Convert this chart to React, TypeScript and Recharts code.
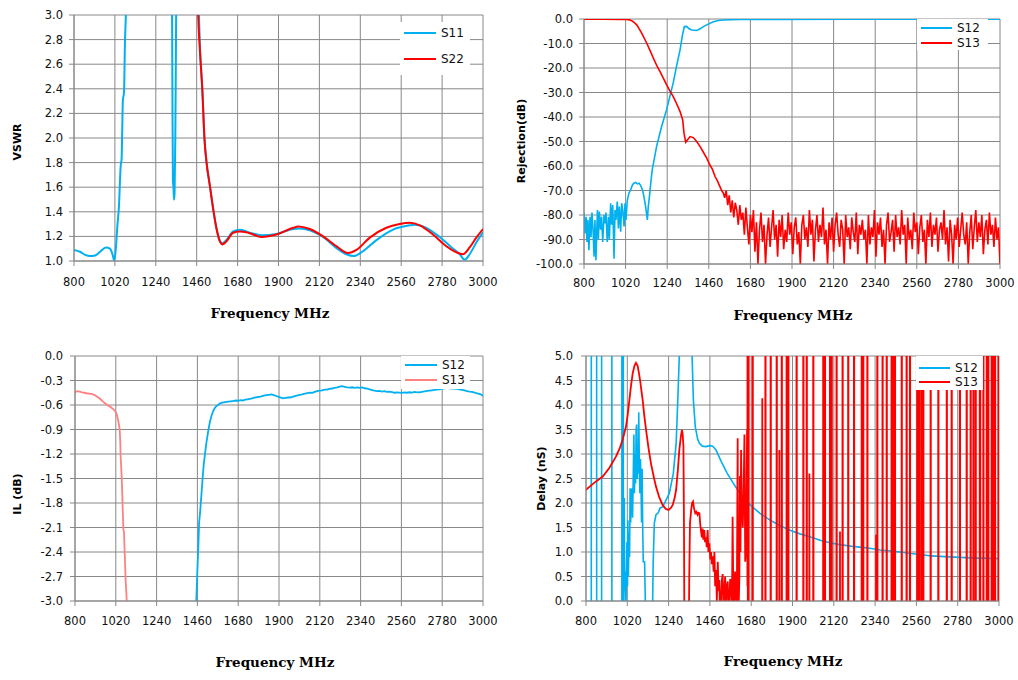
import React from 'react';
import { LineChart, Line, XAxis, YAxis, CartesianGrid, Legend } from 'recharts';

type P = [number, number];

// ---------- shared axis ticks ----------
const freqTicks = [800, 1020, 1240, 1460, 1680, 1900, 2120, 2340, 2560, 2780, 3000];
const vswrTicks = [1.0, 1.2, 1.4, 1.6, 1.8, 2.0, 2.2, 2.4, 2.6, 2.8, 3.0];
const rejTicks = [0, -10, -20, -30, -40, -50, -60, -70, -80, -90, -100];
const ilTicks = [0, -0.3, -0.6, -0.9, -1.2, -1.5, -1.8, -2.1, -2.4, -2.7, -3.0];
const delayTicks = [0, 0.5, 1.0, 1.5, 2.0, 2.5, 3.0, 3.5, 4.0, 4.5, 5.0];

// ---------- VSWR ----------
const vswrS11: P[] = [
  [800, 1.09], [832, 1.075], [860, 1.05], [886, 1.04], [913, 1.045], [940, 1.075], [972, 1.11],
  [993, 1.1], [1008, 1.05], [1017, 1.0], [1026, 1.12], [1033, 1.28], [1042, 1.45], [1051, 1.77],
  [1056, 1.83], [1063, 2.31], [1069, 2.37], [1074, 2.77], [1079, 3.0], [1085, 3.4], [1100, 4.5],
  [1250, 5.0], [1320, 4.5], [1326, 3.5], [1329, 2.5], [1332, 1.65], [1335, 1.6], [1338, 1.5],
  [1341, 1.55], [1345, 2.0], [1349, 2.9], [1352, 3.5], [1380, 5.0], [1460, 4.0], [1472, 3.0],
  [1478, 2.72], [1490, 2.4], [1502, 1.99], [1513, 1.8], [1531, 1.61], [1549, 1.42], [1567, 1.26],
  [1585, 1.16], [1599, 1.145], [1620, 1.17], [1656, 1.24], [1692, 1.255], [1737, 1.235],
  [1809, 1.21], [1889, 1.22], [1979, 1.26], [2015, 1.265], [2068, 1.25], [2140, 1.195],
  [2212, 1.105], [2265, 1.055], [2305, 1.04], [2355, 1.08], [2427, 1.17], [2516, 1.255],
  [2606, 1.29], [2633, 1.295], [2695, 1.27], [2767, 1.195], [2839, 1.1], [2875, 1.055],
  [2901, 1.01], [2928, 1.055], [2964, 1.15], [3000, 1.235],
];
const vswrS22: P[] = [
  [1462, 3.4], [1468, 3.0], [1477, 2.72], [1490, 2.4], [1502, 1.99], [1513, 1.8], [1531, 1.61],
  [1549, 1.42], [1567, 1.26], [1585, 1.16], [1599, 1.135], [1620, 1.16], [1656, 1.23],
  [1692, 1.24], [1737, 1.23], [1809, 1.195], [1889, 1.215], [1979, 1.27], [2006, 1.28],
  [2068, 1.26], [2140, 1.2], [2212, 1.12], [2274, 1.065], [2319, 1.09], [2391, 1.19],
  [2480, 1.27], [2552, 1.3], [2606, 1.31], [2660, 1.29], [2731, 1.215], [2803, 1.12],
  [2857, 1.07], [2892, 1.055], [2928, 1.11], [2964, 1.19], [3000, 1.26],
];

// ---------- Rejection ----------
const rejS12: P[] = [
  [800, -79], [805, -87.5], [811, -80.7], [816, -91], [821, -82], [826, -94.4], [832, -80.7],
  [837, -89], [842, -79], [848, -86], [853, -97], [858, -82], [863, -98.5], [871, -78], [876, -90],
  [881, -78.6], [888, -86], [893, -80.7], [899, -91], [906, -80], [911, -83.4], [916, -79],
  [923, -91], [929, -80.7], [934, -90], [941, -75.2], [946, -84], [952, -75.9], [959, -97.8],
  [964, -78], [969, -82], [976, -74.5], [982, -85.5], [987, -76.5], [994, -86.8], [999, -75.2],
  [1005, -78], [1012, -84.7], [1017, -75.2], [1022, -82], [1029, -74], [1038, -71], [1047, -69.7],
  [1056, -67.7], [1064, -67], [1073, -66.7], [1082, -67.3], [1091, -67], [1100, -68], [1109, -69.7],
  [1117, -72.5], [1126, -76.6], [1135, -82], [1140, -76.6], [1146, -72.5], [1153, -67], [1161, -61.5],
  [1184, -52], [1210, -44], [1237, -37], [1272, -26], [1290, -19], [1308, -12.6], [1322, -6],
  [1331, -3.1], [1343, -3.0], [1356, -4.0], [1370, -4.5], [1396, -4.7], [1415, -4.0], [1431, -3.1],
  [1460, -2.0], [1484, -1.1], [1510, -0.6], [1537, -0.4], [1625, -0.2], [1800, -0.15], [2200, -0.1],
  [3000, -0.1],
];
const rejS13Smooth: P[] = [
  [800, -0.1], [900, -0.1], [1000, -0.15], [1026, -0.2], [1040, -0.35], [1052, -0.7], [1065, -1.4],
  [1079, -2.4], [1092, -4.0], [1105, -5.8], [1132, -9.9], [1150, -13], [1167, -16], [1185, -19],
  [1202, -21.5], [1220, -24.2], [1237, -26.9], [1255, -29.4], [1272, -31.7], [1290, -34.6],
  [1308, -37.8], [1322, -41.2], [1329, -46.7], [1338, -50.3], [1347, -49.4], [1361, -48],
  [1378, -48.4], [1396, -50], [1414, -52.1], [1432, -54.5], [1449, -56.8], [1466, -59.6],
  [1480, -61.5], [1493, -64.3], [1505, -66], [1519, -68.4], [1528, -70], [1537, -71.1],
];
// measured sweep from 1544 MHz, 8 MHz per sample
const REJ_NOISE_START = 1544;
const REJ_NOISE_STEP = 8;
const rejS13Noise: number[] = [
  -73, -70, -76, -72, -79, -74, -81, -75, -78, -84, -76, -82,
  -79, -88, -77, -85, -92, -80, -87, -78, -95, -83, -100, -86, -79, -91, -84, -100, -88, -81, -93, -85,
  -78, -90, -84, -97, -82, -89, -80, -94, -86, -91, -79, -88, -83, -96, -85, -81, -92, -87, -100, -84,
  -80, -90, -85, -93, -78, -88, -82, -99, -86, -80, -91, -84, -89, -77, -92, -86, -100, -83, -90, -81,
  -95, -84, -79, -88, -93, -82, -86, -100, -80, -89, -85, -94, -81, -87, -91, -79, -96, -84, -88, -82,
  -90, -86, -100, -80, -92, -85, -89, -78, -97, -83, -88, -81, -93, -86, -100, -84, -79, -91, -87, -82,
  -95, -80, -89, -85, -92, -78, -88, -84, -100, -81, -90, -86, -94, -79, -87, -83, -96, -85, -80, -91,
  -86, -100, -82, -89, -79, -93, -84, -88, -81, -95, -86, -83, -90, -78, -92, -85, -99, -82, -88, -100,
  -84, -90, -81, -93, -86, -79, -88, -92, -83, -100,
  -87, -80, -94, -85, -78, -91, -83, -89, -80, -96, -86, -82, -92, -79, -88, -84, -93, -81, -90, -85,
];
const rejS13End: P[] = [[3000, -100]];

// ---------- Insertion loss ----------
const ilS12: P[] = [
  [1445, -3.4], [1454, -3.0], [1460, -2.62], [1465, -2.35], [1469, -2.05], [1475, -1.9], [1481, -1.72],
  [1488, -1.5], [1494, -1.33], [1501, -1.2], [1508, -1.07], [1515, -0.97], [1521, -0.885], [1528, -0.8],
  [1535, -0.74], [1544, -0.68], [1553, -0.64], [1562, -0.615], [1571, -0.6], [1582, -0.58], [1594, -0.57],
  [1610, -0.565], [1625, -0.56], [1640, -0.555], [1655, -0.55], [1668, -0.545], [1680, -0.548],
  [1692, -0.54], [1705, -0.545], [1718, -0.535], [1730, -0.53], [1742, -0.525], [1755, -0.52],
  [1768, -0.51], [1780, -0.505], [1792, -0.5], [1805, -0.495], [1818, -0.485], [1832, -0.48],
  [1845, -0.475], [1859, -0.47], [1872, -0.48], [1885, -0.49], [1898, -0.5], [1910, -0.51],
  [1921, -0.518], [1935, -0.512], [1950, -0.508], [1966, -0.505], [1980, -0.495], [1995, -0.485],
  [2011, -0.477], [2025, -0.47], [2040, -0.46], [2052, -0.455], [2065, -0.448], [2080, -0.452],
  [2092, -0.44], [2105, -0.43], [2119, -0.424], [2132, -0.42], [2146, -0.412], [2160, -0.41],
  [2173, -0.404], [2186, -0.398], [2200, -0.39], [2213, -0.385], [2227, -0.375], [2240, -0.37],
  [2254, -0.378], [2268, -0.385], [2281, -0.387], [2295, -0.383], [2308, -0.39], [2322, -0.385],
  [2335, -0.391], [2348, -0.385], [2362, -0.395], [2375, -0.4], [2389, -0.408], [2402, -0.418],
  [2415, -0.425], [2428, -0.43], [2442, -0.428], [2455, -0.435], [2468, -0.43], [2482, -0.44],
  [2496, -0.436], [2510, -0.442], [2523, -0.45], [2536, -0.445], [2550, -0.448], [2563, -0.452],
  [2577, -0.445], [2590, -0.45], [2604, -0.444], [2617, -0.448], [2631, -0.44], [2645, -0.446],
  [2658, -0.444], [2671, -0.438], [2685, -0.432], [2698, -0.428], [2712, -0.424], [2725, -0.42],
  [2739, -0.415], [2752, -0.41], [2766, -0.408], [2780, -0.4], [2793, -0.396], [2806, -0.39],
  [2820, -0.395], [2833, -0.4], [2847, -0.398], [2860, -0.402], [2874, -0.408], [2887, -0.415],
  [2900, -0.422], [2914, -0.43], [2928, -0.436], [2941, -0.44], [2955, -0.448], [2964, -0.456],
  [2975, -0.462], [2988, -0.47], [3000, -0.489],
];
const ilS13: P[] = [
  [800, -0.448], [812, -0.43], [825, -0.436], [838, -0.445], [850, -0.45], [861, -0.456], [875, -0.46],
  [888, -0.465], [897, -0.469], [910, -0.485], [924, -0.505], [938, -0.53], [951, -0.558], [965, -0.585],
  [978, -0.607], [992, -0.625], [1005, -0.648], [1015, -0.67], [1023, -0.7], [1028, -0.74], [1032, -0.78],
  [1037, -0.84], [1041, -0.905], [1044, -1.05], [1046, -1.23], [1050, -1.4], [1053, -1.557],
  [1057, -1.85], [1061, -2.13], [1064, -2.15], [1068, -2.41], [1073, -2.74], [1079, -3.0], [1085, -3.4],
];

// ---------- Group delay ----------
const delayS12: P[] = [
  [800, -5], [828, -5], [829, 40], [856, 40], [857, -5], [883, -5], [884, 40], [937, 40], [938, -5],
  [991, -5], [992, 40], [998, 40], [999, -5], [1001, 0.3], [1004, 2.1], [1006, 0.2], [1009, 0.6],
  [1012, -0.3], [1015, 0.4], [1018, 1.2], [1021, 0.3], [1023, 1.65], [1026, 0.5], [1029, 1.4],
  [1032, 0.9], [1035, 2.3], [1038, 1.6], [1041, 2.2], [1045, 2.3], [1048, 1.7], [1052, 2.6],
  [1055, 3.4], [1058, 2.2], [1061, 3.0], [1064, 2.4], [1067, 3.5], [1070, 3.6], [1073, 2.5],
  [1076, 3.0], [1079, 2.6], [1081, 3.85], [1084, 2.8], [1087, 2.2], [1090, 2.9], [1093, 2.4],
  [1096, 1.6], [1099, 2.7], [1102, 1.5], [1105, 0.8], [1112, 0.8], [1116, 0], [1118, -2],
  [1150, -2], [1155, 0], [1158, 0.8], [1164, 1.59], [1173, 1.76], [1185, 1.8], [1195, 1.9],
  [1208, 1.92], [1225, 2.05], [1244, 2.2], [1265, 2.6], [1280, 3.2], [1288, 4.0], [1297, 5.0],
  [1305, 6.5], [1350, 7], [1365, 5.0], [1372, 4.1], [1382, 3.56], [1395, 3.3], [1404, 3.22],
  [1420, 3.16], [1439, 3.15], [1460, 3.17], [1475, 3.16], [1493, 3.08], [1520, 2.85], [1550, 2.62],
  [1585, 2.4], [1620, 2.2], [1674, 1.96], [1727, 1.79], [1780, 1.65], [1833, 1.54], [1890, 1.44],
  [1940, 1.37], [2000, 1.3], [2047, 1.24], [2100, 1.19], [2153, 1.15], [2210, 1.12], [2260, 1.1],
  [2320, 1.07], [2366, 1.04], [2420, 1.02], [2473, 1.0], [2530, 0.97], [2580, 0.95], [2640, 0.92],
  [2686, 0.91], [2740, 0.9], [2793, 0.89], [2850, 0.88], [2899, 0.875], [2950, 0.87], [3000, 0.865],
];
const delayS13: P[] = [
  [800, 2.27], [840, 2.4], [889, 2.54], [925, 2.72], [960, 2.95], [980, 3.12], [995, 3.29], [1013, 3.56],
  [1022, 3.8], [1031, 4.1], [1040, 4.4], [1049, 4.65], [1058, 4.8], [1066, 4.86], [1075, 4.8],
  [1082, 4.65], [1088, 4.51], [1095, 4.3], [1102, 4.1], [1110, 3.8], [1120, 3.49], [1133, 3.12],
  [1146, 2.81], [1160, 2.55], [1173, 2.33], [1190, 2.12], [1208, 1.96], [1225, 1.88], [1240, 1.86],
  [1252, 1.9], [1262, 1.96], [1272, 2.1], [1280, 2.27], [1290, 2.7], [1297, 3.08], [1305, 3.35],
  [1311, 3.49], [1315, 3.4], [1319, 3.15], [1322, 1.5], [1324, -0.5], [1330, -2], [1345, -2],
  [1350, 0.5], [1354, 1.59], [1360, 1.85], [1365, 2.0], [1370, 2.03], [1375, 1.9], [1382, 1.79],
  [1388, 1.82], [1394, 1.76], [1399, 1.8], [1404, 1.79], [1409, 1.55], [1413, 1.42], [1417, 1.3],
  [1421, 1.48], [1425, 1.25], [1430, 1.45], [1434, 1.2], [1439, 1.3], [1443, 1.1], [1448, 1.45],
  [1452, 1.0], [1457, 1.18], [1462, 0.85], [1466, 1.0], [1470, 0.75], [1475, 0.91], [1480, 0.6],
  [1484, 1.0], [1488, 0.3], [1493, 0.63], [1497, 0.0], [1502, 0.8], [1506, 0.2], [1510, 0.43],
  [1514, -0.3], [1519, 0.0], [1523, 0.4], [1528, 0.55], [1532, -0.2], [1537, 0.2], [1541, 0.5],
  [1546, -0.1], [1550, 0.3], [1555, 0.4], [1559, -0.2], [1564, 0.05], [1568, 0.45], [1573, 0.35],
  [1577, -0.3], [1581, 1.72], [1585, 0.1], [1590, -0.2], [1594, 0.6], [1599, 0.3], [1603, -0.3],
  [1608, 3.32], [1610, 0.2], [1613, -0.2], [1617, 0.5], [1620, 2.55], [1623, 1.0], [1626, 3.08],
  [1630, 2.0], [1635, 1.5], [1639, 2.1], [1644, 3.4], [1648, 0.8], [1652, 1.0], [1655, 2.0],
  [1658, 3.5], [1660, 0.3],
  [1661, 40], [1662, -3], [1665, -3], [1666, 40], [1667, -3], [1687, -3], [1688, 40], [1689, -3],
  [1738, -3], [1739, 4.14], [1740, -3], [1755, -3], [1756, 40], [1757, -3],
  [1783, -3], [1784, 40], [1785, -3], [1815, -3], [1816, 40], [1817, -3],
  [1829, -3], [1830, 3.08], [1831, -3], [1842, -3], [1843, 40], [1844, -3],
  [1868, -3], [1869, 40], [1870, -3], [1877, -3], [1878, 40], [1879, -3],
  [1921, -3], [1922, 40], [1923, -3], [1957, -3], [1958, 40], [1959, -3],
  [1975, -3], [1976, 40], [1977, -3], [1989, -3], [1990, 2.6], [1991, -3],
  [2010, -3], [2011, 40], [2012, -3], [2063, -3], [2064, 40], [2065, -3],
  [2072, -3], [2073, 40], [2074, -3], [2099, -3], [2100, 40], [2101, -3],
  [2108, -3], [2109, 40], [2110, -3], [2134, -3], [2135, 40], [2136, -3],
  [2152, -3], [2153, 1.42], [2154, -3], [2166, -3], [2167, 40], [2168, -3],
  [2196, -3], [2197, 40], [2198, -3], [2227, -3], [2228, 40], [2229, -3],
  [2268, -3], [2269, 40], [2270, -3], [2276, -3], [2277, 40], [2278, -3],
  [2298, -3], [2299, 40], [2300, -3], [2344, -3], [2345, 1.35], [2346, -3],
  [2351, -3], [2352, 40], [2353, -3], [2379, -3], [2380, 40], [2381, -3],
  [2401, -3], [2402, 40], [2403, -3], [2427, -3], [2428, 40], [2429, -3],
  [2436, -3], [2437, 40], [2438, -3], [2445, -3], [2446, 40], [2447, -3],
  [2481, -3], [2482, 40], [2483, -3], [2507, -3], [2508, 40], [2509, -3],
  [2525, -3], [2526, 40], [2527, -3], [2564, -3], [2565, 40], [2566, -3],
  [2575, -3], [2576, 40], [2577, -3], [2587, -3], [2588, 40], [2589, -3],
  [2596, -3], [2597, 40], [2598, -3], [2635, -3], [2636, 40], [2637, -3],
  [2676, -3], [2677, 40], [2678, -3], [2721, -3], [2722, 40], [2723, -3],
  [2747, -3], [2748, 40], [2749, -3], [2791, -3], [2792, 40], [2793, -3],
  [2827, -3], [2828, 40], [2829, -3], [2848, -3], [2849, 40], [2850, -3],
  [2863, -3], [2864, 40], [2865, -3], [2875, -3], [2876, 40], [2877, -3],
  [2897, -3], [2898, 40], [2899, 2.27], [2900, 40], [2901, -3],
  [2916, -3], [2917, 40], [2918, -3], [2934, -3], [2935, 40], [2936, -3],
  [2942, -3], [2943, 40], [2944, -3], [2960, -3], [2961, 40], [2962, -3],
  [2969, -3], [2970, 40], [2971, -3], [2978, -3], [2979, 40], [2980, -3],
  [2996, -3], [2997, 40], [2998, -3], [3000, -3],
];

// ---------- styling ----------
const BLUE = '#00B0F0';
const RED = '#FF0000';
const PINK = '#FF8080';
const GRID = '#888888';
const W = 509;
const H = 340;

const pts = (arr: P[]) => arr.map(([f, v]) => ({ f, v }));

type Series = { name: string; color: string; data: { f: number; v: number }[]; width?: number; type?: 'linear' | 'monotone' };
type LegendCfg = { left: number; top: number; width: number; height: number; rows: number[]; lineX: number; lineW: number; textX: number };
type PanelProps = {
  x: number; y: number;
  plot: { left: number; top: number; right: number; bottom: number };
  domain: [number, number]; yTicks: number[];
  yTitle: string; yTitlePos: [number, number]; xTitlePos: [number, number];
  yTickMargin: number; xTickMargin: number;
  series: Series[]; legend: LegendCfg;
};

function Panel(p: PanelProps) {
  const margin = { top: p.plot.top, right: W - p.plot.right, left: p.plot.left - 60, bottom: H - p.plot.bottom - 30 };
  const tick = { fontSize: 11.5, fontFamily: 'DejaVu Sans', fill: '#111' };
  const yTitle = () => (
    <text x={p.yTitlePos[0]} y={p.yTitlePos[1]} transform={`rotate(-90 ${p.yTitlePos[0]} ${p.yTitlePos[1]})`}
      textAnchor="middle" dominantBaseline="central" fontFamily="DejaVu Sans" fontWeight="bold" fontSize={11} fill="#000">
      {p.yTitle}
    </text>
  );
  const xTitle = () => (
    <text x={p.xTitlePos[0]} y={p.xTitlePos[1]} textAnchor="middle" dominantBaseline="central"
      fontFamily="DejaVu Serif" fontWeight="bold" fontSize={13.5} fill="#000">
      Frequency MHz
    </text>
  );
  const lg = p.legend;
  const legendContent = () => (
    <div style={{ position: 'relative', width: lg.width, height: lg.height, background: '#fff' }}>
      {p.series.map((s, i) => (
        <React.Fragment key={s.name}>
          <div style={{ position: 'absolute', left: lg.lineX, top: lg.rows[i] - 1, width: lg.lineW, height: 2, background: s.color }} />
          <div style={{ position: 'absolute', left: lg.textX, top: lg.rows[i] - 7, height: 14, lineHeight: '14px', fontSize: 12, fontFamily: 'DejaVu Sans', color: '#111' }}>
            {s.name}
          </div>
        </React.Fragment>
      ))}
    </div>
  );
  return (
    <div style={{ position: 'absolute', left: p.x, top: p.y, width: W, height: H }}>
      <LineChart width={W} height={H} margin={margin}>
        <CartesianGrid stroke={GRID} strokeWidth={1} />
        <XAxis type="number" dataKey="f" domain={[800, 3000]} ticks={freqTicks} interval={0} allowDataOverflow
          height={30} tick={tick} tickSize={5} tickMargin={p.xTickMargin}
          axisLine={{ stroke: GRID }} tickLine={{ stroke: GRID }} label={{ content: xTitle }} />
        <YAxis type="number" domain={p.domain} ticks={p.yTicks} interval={0} allowDataOverflow width={60}
          tick={tick} tickSize={5} tickMargin={p.yTickMargin} tickFormatter={(v: number) => v.toFixed(1)}
          axisLine={{ stroke: GRID }} tickLine={{ stroke: GRID }} label={{ content: yTitle }} />
        {p.series.map((s) => (
          <Line key={s.name} name={s.name} data={s.data} dataKey="v" type={s.type || 'linear'} stroke={s.color}
            strokeWidth={s.width || 2} dot={false} activeDot={false} isAnimationActive={false} />
        ))}
        <Legend layout="vertical" align="center" verticalAlign="middle" content={legendContent}
          wrapperStyle={{ left: lg.left, top: lg.top, width: lg.width, height: lg.height }} />
      </LineChart>
    </div>
  );
}

export default function App() {
  const rejNoise = rejS13Noise.map((v, i) => ({ f: REJ_NOISE_START + REJ_NOISE_STEP * i, v }));
  const rejS13 = [...pts(rejS13Smooth), ...rejNoise, ...pts(rejS13End)];
  return (
    <div style={{ position: 'absolute', left: 0, top: 0, width: 1018, height: 680, background: '#fff' }}>
      <Panel x={0} y={0} plot={{ left: 74, top: 15, right: 483, bottom: 261 }} domain={[1, 3]} yTicks={vswrTicks}
        yTitle="VSWR" yTitlePos={[17, 142]} xTitlePos={[270, 313]} yTickMargin={6} xTickMargin={12}
        series={[
          { name: 'S11', color: BLUE, data: pts(vswrS11), type: 'monotone' },
          { name: 'S22', color: RED, data: pts(vswrS22), type: 'monotone' },
        ]}
        legend={{ left: 400, top: 22, width: 70, height: 53, rows: [11, 37], lineX: 4, lineW: 32, textX: 41 }} />
      <Panel x={509} y={0} plot={{ left: 75, top: 19, right: 491, bottom: 264 }} domain={[-100, 0]} yTicks={rejTicks}
        yTitle="Rejection(dB)" yTitlePos={[12, 141]} xTitlePos={[284, 315]} yTickMargin={6} xTickMargin={10}
        series={[
          { name: 'S12', color: BLUE, data: pts(rejS12), width: 1.6 },
          { name: 'S13', color: RED, data: rejS13, width: 1.6 },
        ]}
        legend={{ left: 408, top: 19, width: 71, height: 31, rows: [8.7, 23.7], lineX: 4, lineW: 31, textX: 40 }} />
      <Panel x={0} y={340} plot={{ left: 75, top: 16, right: 483, bottom: 261 }} domain={[-3, 0]} yTicks={ilTicks}
        yTitle="IL (dB)" yTitlePos={[17, 154]} xTitlePos={[275, 322]} yTickMargin={7} xTickMargin={11}
        series={[
          { name: 'S12', color: BLUE, data: pts(ilS12), width: 1.8 },
          { name: 'S13', color: PINK, data: pts(ilS13), width: 1.8 },
        ]}
        legend={{ left: 401, top: 16, width: 69, height: 33, rows: [9, 24], lineX: 4, lineW: 32, textX: 41 }} />
      <Panel x={509} y={340} plot={{ left: 77, top: 16, right: 490, bottom: 261 }} domain={[0, 5]} yTicks={delayTicks}
        yTitle="Delay (nS)" yTitlePos={[32, 138.5]} xTitlePos={[274, 321]} yTickMargin={8} xTickMargin={11}
        series={[
          { name: 'S12', color: BLUE, data: pts(delayS12), width: 1.6 },
          { name: 'S13', color: RED, data: pts(delayS13), width: 1.8 },
        ]}
        legend={{ left: 407, top: 16, width: 67, height: 34, rows: [11.7, 26.3], lineX: 3, lineW: 31, textX: 39 }} />
    </div>
  );
}
